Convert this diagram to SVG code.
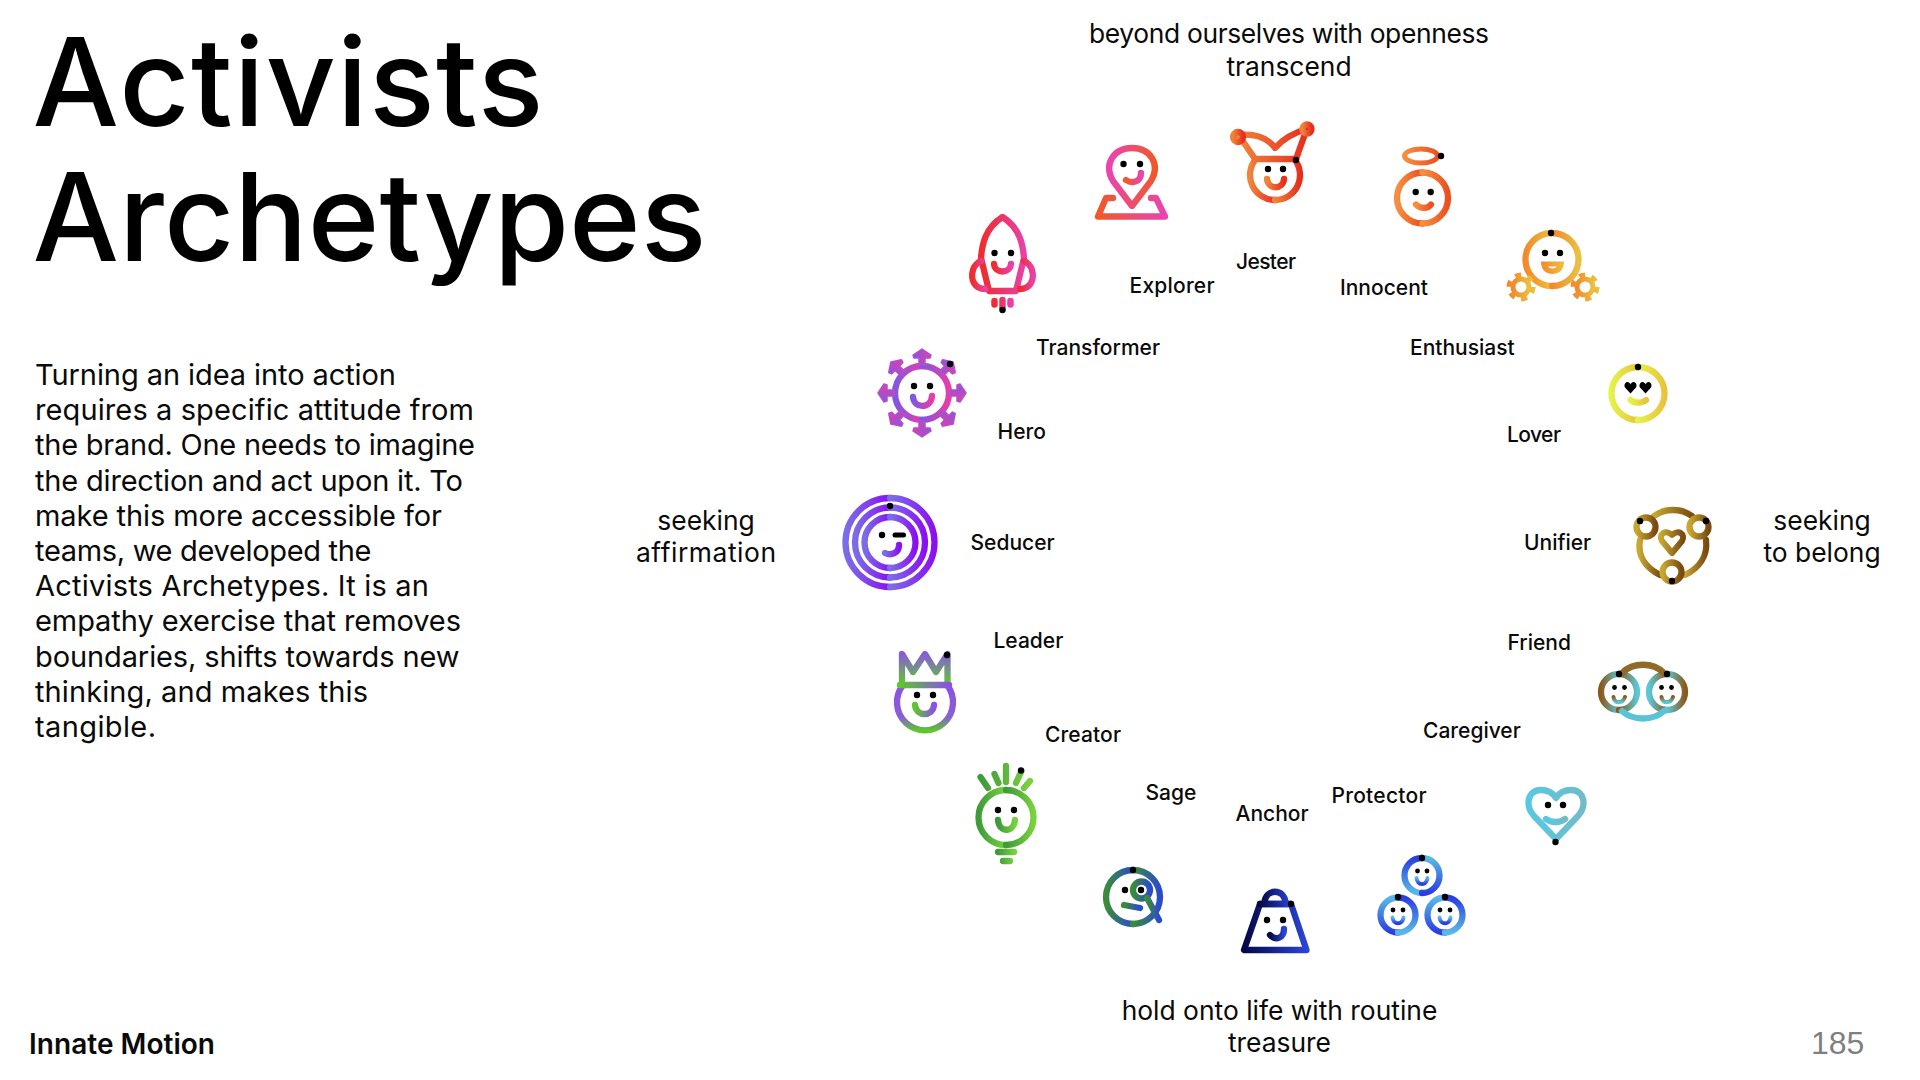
<svg xmlns="http://www.w3.org/2000/svg" xmlns:xlink="http://www.w3.org/1999/xlink" width="1920" height="1080" viewBox="0 0 1920 1080">
<style>
text{font-family:"Inter","Noto Sans","Liberation Sans",sans-serif;fill:#0a0a0a}
.title{font-size:122px;fill:#000;font-weight:500}
.body{font-size:29px}
.lab{font-size:21px;font-weight:500;stroke:none}
.big{font-size:26.400px;text-anchor:middle}
.ic{fill:none;stroke-width:6.300;stroke-linecap:round;stroke-linejoin:round}
.d{fill:#000;stroke:none}
</style>
<defs>
<linearGradient id="gJ"><stop offset="0" stop-color="#f0843a"/><stop offset="1" stop-color="#e62e1e"/></linearGradient>
<linearGradient id="gE"><stop offset="0" stop-color="#e944b0"/><stop offset="1" stop-color="#f0582a"/></linearGradient>
<linearGradient id="gE2"><stop offset="0" stop-color="#f0582a"/><stop offset="1" stop-color="#e944b0"/></linearGradient>
<linearGradient id="gT"><stop offset="0" stop-color="#ee2d2d"/><stop offset="1" stop-color="#e840a8"/></linearGradient>
<linearGradient id="gH"><stop offset="0" stop-color="#8058e0"/><stop offset="1" stop-color="#e83ca8"/></linearGradient>
<linearGradient id="gS"><stop offset="0" stop-color="#7a6ee8"/><stop offset="1" stop-color="#8a10f0"/></linearGradient>
<linearGradient id="gL" x1="0" y1="0" x2="0" y2="1"><stop offset="0" stop-color="#8a50e8"/><stop offset=".72" stop-color="#8a60d0"/><stop offset="1" stop-color="#5cc82a"/></linearGradient>
<linearGradient id="gLc" x1="0" y1="0" x2="0" y2="1"><stop offset="0" stop-color="#8a5ad8"/><stop offset=".6" stop-color="#6ea070"/><stop offset="1" stop-color="#5cc82a"/></linearGradient>
<linearGradient id="gL2"><stop offset="0" stop-color="#5cc82a"/><stop offset="1" stop-color="#8a50e8"/></linearGradient>
<linearGradient id="gC"><stop offset="0" stop-color="#3f9a3a"/><stop offset="1" stop-color="#78d23e"/></linearGradient>
<linearGradient id="gSa"><stop offset="0" stop-color="#3a8c38"/><stop offset="1" stop-color="#2a4ad0"/></linearGradient>
<linearGradient id="gA"><stop offset="0" stop-color="#050845"/><stop offset="1" stop-color="#2a44d8"/></linearGradient>
<linearGradient id="gP1" x1="0" y1="0" x2="0" y2="1"><stop offset="0" stop-color="#2a3ee0"/><stop offset="1" stop-color="#5ab8e8"/></linearGradient>
<linearGradient id="gP2" x1="0" y1="0" x2="0" y2="1"><stop offset="0" stop-color="#5ab8e8"/><stop offset="1" stop-color="#2a3ee0"/></linearGradient>
<linearGradient id="gCa"><stop offset="0" stop-color="#58c8e2"/><stop offset="1" stop-color="#70bcc8"/></linearGradient>
<linearGradient id="gF"><stop offset="0" stop-color="#8a5a1a"/><stop offset="1" stop-color="#5ac8d8"/></linearGradient>
<linearGradient id="gF2"><stop offset="0" stop-color="#5ac8d8"/><stop offset="1" stop-color="#8a5a1a"/></linearGradient>
<linearGradient id="gF3" x1="0" y1="0" x2="0" y2="1"><stop offset="0" stop-color="#8a5a1a"/><stop offset="1" stop-color="#5ac8d8"/></linearGradient>
<linearGradient id="gU"><stop offset="0" stop-color="#c8a830"/><stop offset="1" stop-color="#7a4a10"/></linearGradient>
<linearGradient id="gLo"><stop offset="0" stop-color="#e4f24a"/><stop offset="1" stop-color="#e8c43c"/></linearGradient>
<linearGradient id="gEn"><stop offset="0" stop-color="#f28a2c"/><stop offset="1" stop-color="#eac040"/></linearGradient>
<linearGradient id="gI"><stop offset="0" stop-color="#f59040"/><stop offset="1" stop-color="#ec5020"/></linearGradient>
<path id="sp" style="fill:url(#gH);stroke:#b050d0;stroke-width:1.500" d="M-3-28V-35H-8L-9-38L0-44L9-38L8-35H3V-28Z"/>
<path id="heye" d="M0 6L-5.500 0C-7-3-5-5.500-3-5.500C-1.500-5.500 0-4 0-3C0-4 1.500-5.500 3-5.500C5-5.500 7-3 5.500 0Z"/>
</defs>

<g id="heading">
<text class="title" x="32.500" y="126" textLength="511" lengthAdjust="spacing">Activists</text>
<text class="title" x="32.500" y="261" textLength="674" lengthAdjust="spacing">Archetypes</text>
</g>
<g id="intro">
<text class="body" x="35" y="385" textLength="361" lengthAdjust="spacing">Turning an idea into action</text>
<text class="body" x="35" y="420.200" textLength="439" lengthAdjust="spacing">requires a specific attitude from</text>
<text class="body" x="35" y="455.400" textLength="440" lengthAdjust="spacing">the brand. One needs to imagine</text>
<text class="body" x="35" y="490.600" textLength="428" lengthAdjust="spacing">the direction and act upon it. To</text>
<text class="body" x="35" y="525.800" textLength="407" lengthAdjust="spacing">make this more accessible for</text>
<text class="body" x="35" y="561" textLength="336.500" lengthAdjust="spacing">teams, we developed the</text>
<text class="body" x="35" y="596.200" textLength="394" lengthAdjust="spacing">Activists Archetypes. It is an</text>
<text class="body" x="35" y="631.400" textLength="426" lengthAdjust="spacing">empathy exercise that removes</text>
<text class="body" x="35" y="666.600" textLength="424.500" lengthAdjust="spacing">boundaries, shifts towards new</text>
<text class="body" x="35" y="701.800" textLength="333" lengthAdjust="spacing">thinking, and makes this</text>
<text class="body" x="35" y="737" textLength="121" lengthAdjust="spacing">tangible.</text>
</g>
<g id="logo"><text x="29" y="1053.500" textLength="186" lengthAdjust="spacing" style="font-size:28px;font-weight:600">Innate Motion</text></g>
<g id="pagenum"><text x="1811" y="1054" style="font-family:'Liberation Sans',sans-serif;font-size:32px;fill:#7f7f7f">185</text></g>

<g id="axis-labels">
<text class="big" x="1289" y="43" textLength="400" lengthAdjust="spacing">beyond ourselves with openness</text>
<text class="big" x="1289" y="76">transcend</text>
<text class="big" x="706" y="530">seeking</text>
<text class="big" x="706" y="562" textLength="140" lengthAdjust="spacing">affirmation</text>
<text class="big" x="1822" y="530">seeking</text>
<text class="big" x="1822" y="562">to belong</text>
<text class="big" x="1279.500" y="1020">hold onto life with routine</text>
<text class="big" x="1279.500" y="1052">treasure</text>
</g>

<g id="connectors"></g>

<g id="transformer" class="ic" stroke="url(#gT)">
<path d="M1002.500 217C985 228 982 245 981 258L989 291L1016 291L1024 258C1023 245 1020 228 1002.500 217Z"/>
<path d="M985 289C975 289 970 280 973 270C974 266 978 262 981 261"/>
<path d="M1020 289C1030 289 1035 280 1032 270C1031 266 1027 262 1024 261"/>
<path d="M994.500 301V304.500M1002.500 300V308M1010.500 301V304.500" stroke-width="6.500"/>
<circle class="d" cx="1002.500" cy="310" r="3.200"/><circle class="d" cx="994.500" cy="253" r="3.200"/><circle class="d" cx="1011" cy="253" r="3.200"/>
<path d="M994 264C995 274 1010 274 1011 264"/>
<text class="lab" x="1036" y="355">Transformer</text>
</g>

<g id="explorer" class="ic" stroke="url(#gE)">
<path d="M1132 206L1113 181C1103 164 1114 148 1132 148C1150 148 1161 164 1151 181Z"/>
<path d="M1113 198H1106L1098 216.500H1165L1156 198H1151" stroke="url(#gE2)"/>
<path d="M1126 180C1132 184 1141 182 1141 173" stroke="url(#gE2)"/>
<circle class="d" cx="1123.500" cy="164" r="3.200"/><circle class="d" cx="1140" cy="164" r="3.200"/>
<text class="lab" x="1129.500" y="293" textLength="85" lengthAdjust="spacing">Explorer</text>
</g>

<g id="jester" class="ic" stroke="url(#gJ)">
<path d="M1255.800 159A25 25 0 0 0 1275 200"/><path d="M1294.200 159A25 25 0 0 1 1275 200"/>
<path d="M1255 159H1296L1296.100 159.100M1255 159L1240 137M1296 159L1306 131"/>
<path d="M1237 135C1255 133 1268 138 1275 148C1283 139 1292 133 1307 129"/>
<circle cx="1238" cy="137" r="5"/><circle cx="1307" cy="129" r="4.500"/>
<circle class="d" cx="1296" cy="160" r="3.200"/><circle class="d" cx="1268" cy="169" r="3.200"/><circle class="d" cx="1283" cy="169" r="3.200"/>
<path d="M1267 179C1268 190 1283 190 1284 179"/>
<text class="lab" x="1236" y="269" textLength="60" lengthAdjust="spacing">Jester</text>
</g>

<g id="innocent" class="ic" stroke="url(#gI)">
<ellipse cx="1421" cy="156" rx="16.500" ry="7" stroke-width="5"/>
<path d="M1422.500 172.500A25.500 25.500 0 0 0 1422.500 223.500"/><path d="M1422.500 172.500A25.500 25.500 0 0 1 1422.500 223.500"/>
<circle class="d" cx="1441" cy="156" r="3.200"/><circle class="d" cx="1415.700" cy="192" r="3.200"/><circle class="d" cx="1430.700" cy="192" r="3.200"/>
<path d="M1416 204.500C1420 209 1428 209 1431 204.500"/>
<text class="lab" x="1340" y="295">Innocent</text>
</g>

<g id="enthusiast" class="ic" stroke="url(#gEn)">
<path d="M1552 233A26.500 26.500 0 0 0 1552 286"/><path d="M1552 233A26.500 26.500 0 0 1 1552 286"/>
<path d="M1541 261.500H1564C1564 269 1560 274 1552.500 274C1545 274 1541 269 1541 261.500ZM1548 266.500L1557 266.500C1555 269 1550 269 1548 266.500Z" fill="url(#gEn)" fill-rule="evenodd" stroke="none"/>
<circle cx="1521" cy="287" r="8" stroke-width="5"/><circle cx="1521" cy="287" r="12" stroke-width="5" stroke-dasharray="6 6.570" stroke-linecap="butt"/>
<circle cx="1585" cy="287" r="8" stroke-width="5"/><circle cx="1585" cy="287" r="12" stroke-width="5" stroke-dasharray="6 6.570" stroke-linecap="butt"/>
<circle class="d" cx="1551" cy="233" r="3.200"/><circle class="d" cx="1545" cy="253" r="3.200"/><circle class="d" cx="1560" cy="253" r="3.200"/>
<text class="lab" x="1410" y="355">Enthusiast</text>
</g>

<g id="lover" class="ic" stroke="url(#gLo)">
<path d="M1638 367A26.500 26.500 0 0 0 1638 420"/><path d="M1638 367A26.500 26.500 0 0 1 1638 420"/>
<use class="d" href="#heye" x="1630.500" y="387.500"/><use class="d" href="#heye" x="1645.500" y="387.500"/>
<circle class="d" cx="1638" cy="367" r="3.200"/>
<path d="M1630.500 400C1634 403.500 1642 403.500 1646 400"/>
<text class="lab" x="1507" y="442" textLength="54" lengthAdjust="spacing">Lover</text>
</g>

<g id="unifier" class="ic" stroke="url(#gU)">
<path d="M1654 516C1665 508 1681 508 1692 516"/>
<path d="M1640 540C1637 556 1646 568 1660 575"/><path d="M1706 540C1708 556 1699 568 1685 575"/>
<circle cx="1646" cy="527" r="9.500"/><circle cx="1699" cy="527" r="9.500"/><circle cx="1672" cy="572" r="9.500"/>
<path d="M1672 553L1662 541C1658 534 1666 529 1672 535C1678 529 1686 534 1682 541Z" stroke-width="6"/>
<circle class="d" cx="1640" cy="521" r="3.200"/><circle class="d" cx="1706" cy="521" r="3.200"/><circle class="d" cx="1672" cy="581" r="3.200"/>
<text class="lab" x="1524" y="550">Unifier</text>
</g>

<g id="friend" class="ic">
<path d="M1619 674A18 18 0 0 0 1619 710" stroke="url(#gF)"/><path d="M1619 674A18 18 0 0 1 1619 710" stroke="url(#gF)"/>
<path d="M1667 674A18 18 0 0 0 1667 710" stroke="url(#gF2)"/><path d="M1667 674A18 18 0 0 1 1667 710" stroke="url(#gF2)"/>
<path d="M1622 673C1633 662 1653 662 1664 673" stroke="#8f6a28"/>
<path d="M1622 711C1633 721 1653 721 1664 711" stroke="#58c4d6"/>
<path d="M1613.500 697C1614 704 1623 704 1625 697" stroke="url(#gF3)" stroke-width="4"/><path d="M1661.500 697C1662 704 1671 704 1673 697" stroke="url(#gF3)" stroke-width="4"/>
<circle class="d" cx="1619" cy="674" r="3.200"/><circle class="d" cx="1667" cy="674" r="3.200"/>
<circle class="d" cx="1614.500" cy="687.500" r="2.400"/><circle class="d" cx="1624.500" cy="687.500" r="2.400"/>
<circle class="d" cx="1661.500" cy="687.500" r="2.400"/><circle class="d" cx="1671.500" cy="687.500" r="2.400"/>
<text class="lab" x="1507.500" y="650">Friend</text>
</g>

<g id="caregiver" class="ic" stroke="url(#gCa)">
<path d="M1556 839L1534 816C1525 806 1527 790 1541 790C1548 790 1553 793 1556 798C1559 793 1564 790 1571 790C1585 790 1587 806 1578 816Z"/>
<path d="M1546 819C1551 823 1560 823 1565 819"/>
<circle class="d" cx="1555.500" cy="842" r="3.200"/><circle class="d" cx="1548" cy="805" r="3.200"/><circle class="d" cx="1563" cy="805" r="3.200"/>
<text class="lab" x="1423" y="737.500">Caregiver</text>
</g>

<g id="protector" class="ic">
<path d="M1422 858A17.500 17.500 0 0 0 1422 893" stroke="url(#gP1)"/><path d="M1422 858A17.500 17.500 0 0 1 1422 893" stroke="url(#gP2)"/>
<path d="M1398 897.500A17.500 17.500 0 0 0 1398 932.500" stroke="url(#gP2)"/><path d="M1398 897.500A17.500 17.500 0 0 1 1398 932.500" stroke="url(#gP1)"/>
<path d="M1445 897.500A17.500 17.500 0 0 0 1445 932.500" stroke="url(#gP2)"/><path d="M1445 897.500A17.500 17.500 0 0 1 1445 932.500" stroke="url(#gP1)"/>
<g stroke="url(#gP2)" stroke-width="4"><path d="M1416.500 878C1417.500 886 1426.500 886 1427.500 878"/><path d="M1392.500 917.500C1393.500 925 1402.500 925 1403.500 917.500"/><path d="M1439.500 917.500C1440.500 925 1449.500 925 1450.500 917.500"/></g>
<circle class="d" cx="1422" cy="858" r="3.200"/><circle class="d" cx="1398" cy="897" r="3.200"/><circle class="d" cx="1445" cy="897" r="3.200"/>
<circle class="d" cx="1417.500" cy="871" r="2.400"/><circle class="d" cx="1427" cy="871" r="2.400"/>
<circle class="d" cx="1393" cy="910" r="2.400"/><circle class="d" cx="1403" cy="910" r="2.400"/>
<circle class="d" cx="1440" cy="910" r="2.400"/><circle class="d" cx="1450" cy="910" r="2.400"/>
<text class="lab" x="1331.500" y="802.500" textLength="95" lengthAdjust="spacing">Protector</text>
</g>

<g id="anchor" class="ic" stroke="url(#gA)">
<path d="M1260 904L1244 950H1306.500L1291 904H1290.900Z" stroke-linejoin="round"/>
<path d="M1264.500 903C1265 888 1285 888 1285.500 903M1260 904H1291"/>
<path d="M1270 935C1276 941 1284 938 1284 929"/>
<circle class="d" cx="1291" cy="904" r="3.200"/><circle class="d" cx="1267" cy="920" r="3.200"/><circle class="d" cx="1283" cy="920" r="3.200"/>
<text class="lab" x="1235.500" y="820.500">Anchor</text>
</g>

<g id="sage" class="ic" stroke="url(#gSa)">
<path d="M1133 870A27 27 0 0 0 1133 924"/><path d="M1133 870A27 27 0 0 1 1133 924"/>
<circle cx="1141.500" cy="890" r="8.500"/><path d="M1147 898L1159 920"/>
<path d="M1124 905L1140 908"/>
<circle class="d" cx="1133" cy="870" r="3.200"/><circle class="d" cx="1125" cy="890" r="3.200"/><circle class="d" cx="1141" cy="890" r="3.200"/>
<text class="lab" x="1145.500" y="799.500">Sage</text>
</g>

<g id="creator" class="ic" stroke="url(#gC)">
<path d="M1006 790A27.500 27.500 0 0 0 1006 845"/><path d="M1006 790A27.500 27.500 0 0 1 1006 845"/>
<path d="M1006 766V782M994.500 774L998.500 783M980.500 777L988 788M1021.500 771L1016 783M1030 781L1024 788"/>
<path d="M998 852H1014.100V852.100M1003 861H1010V861.100"/>
<path d="M998 820C999 833 1014 833 1015 820"/>
<circle class="d" cx="1021" cy="770.500" r="3.200"/><circle class="d" cx="998" cy="810" r="3.200"/><circle class="d" cx="1014" cy="810" r="3.200"/>
<text class="lab" x="1045" y="742" textLength="76" lengthAdjust="spacing">Creator</text>
</g>

<g id="leader" class="ic">
<path d="M903 685A28 28 0 1 0 947 685" stroke="url(#gL)"/>
<path d="M902 685V654L913 672L925 654L936 672L947.500 654V685" stroke="url(#gLc)"/>
<path d="M900 685H949V685.100" stroke="url(#gL2)"/>
<path d="M915 705C916 717 933 717 934 705" stroke="url(#gL2)"/>
<circle class="d" cx="947" cy="655" r="3.200"/><circle class="d" cx="917" cy="695" r="3.200"/><circle class="d" cx="933" cy="695" r="3.200"/>
<text class="lab" x="993.500" y="648">Leader</text>
</g>

<g id="seducer" class="ic" stroke="url(#gS)">
<path d="M890 498A44.500 44.500 0 0 0 890 587"/><path d="M890 498A44.500 44.500 0 0 1 890 587"/>
<path d="M890 507.500A35 35 0 0 0 890 577.500"/><path d="M890 507.500A35 35 0 0 1 890 577.500"/>
<path d="M890 517A25.500 25.500 0 0 0 890 568"/><path d="M890 517A25.500 25.500 0 0 1 890 568"/>
<path d="M885 553C891 556 899 553 899 545"/>
<path class="d" d="M895 532.500H903.500A2.500 2.500 0 0 1 903.500 537.500H895A2.500 2.500 0 0 1 895 532.500Z"/>
<circle class="d" cx="890" cy="506" r="3.200"/><circle class="d" cx="882" cy="535" r="3.200"/>
<text class="lab" x="970.500" y="550">Seducer</text>
</g>

<g id="hero" class="ic" stroke="url(#gH)">
<path d="M922 366A27 27 0 0 0 922 420"/><path d="M922 366A27 27 0 0 1 922 420"/>
<use href="#sp" transform="translate(922 393)"/><use href="#sp" transform="translate(922 393) rotate(45)"/><use href="#sp" transform="translate(922 393) rotate(90)"/><use href="#sp" transform="translate(922 393) rotate(135)"/>
<use href="#sp" transform="translate(922 393) rotate(180)"/><use href="#sp" transform="translate(922 393) rotate(225)"/><use href="#sp" transform="translate(922 393) rotate(270)"/><use href="#sp" transform="translate(922 393) rotate(315)"/>
<path d="M913 397C914 409 931 409 932 396"/>
<circle class="d" cx="950" cy="364" r="3.200"/><circle class="d" cx="914" cy="386" r="3.200"/><circle class="d" cx="930" cy="386" r="3.200"/>
<text class="lab" x="997.500" y="439">Hero</text>
</g>
</svg>
